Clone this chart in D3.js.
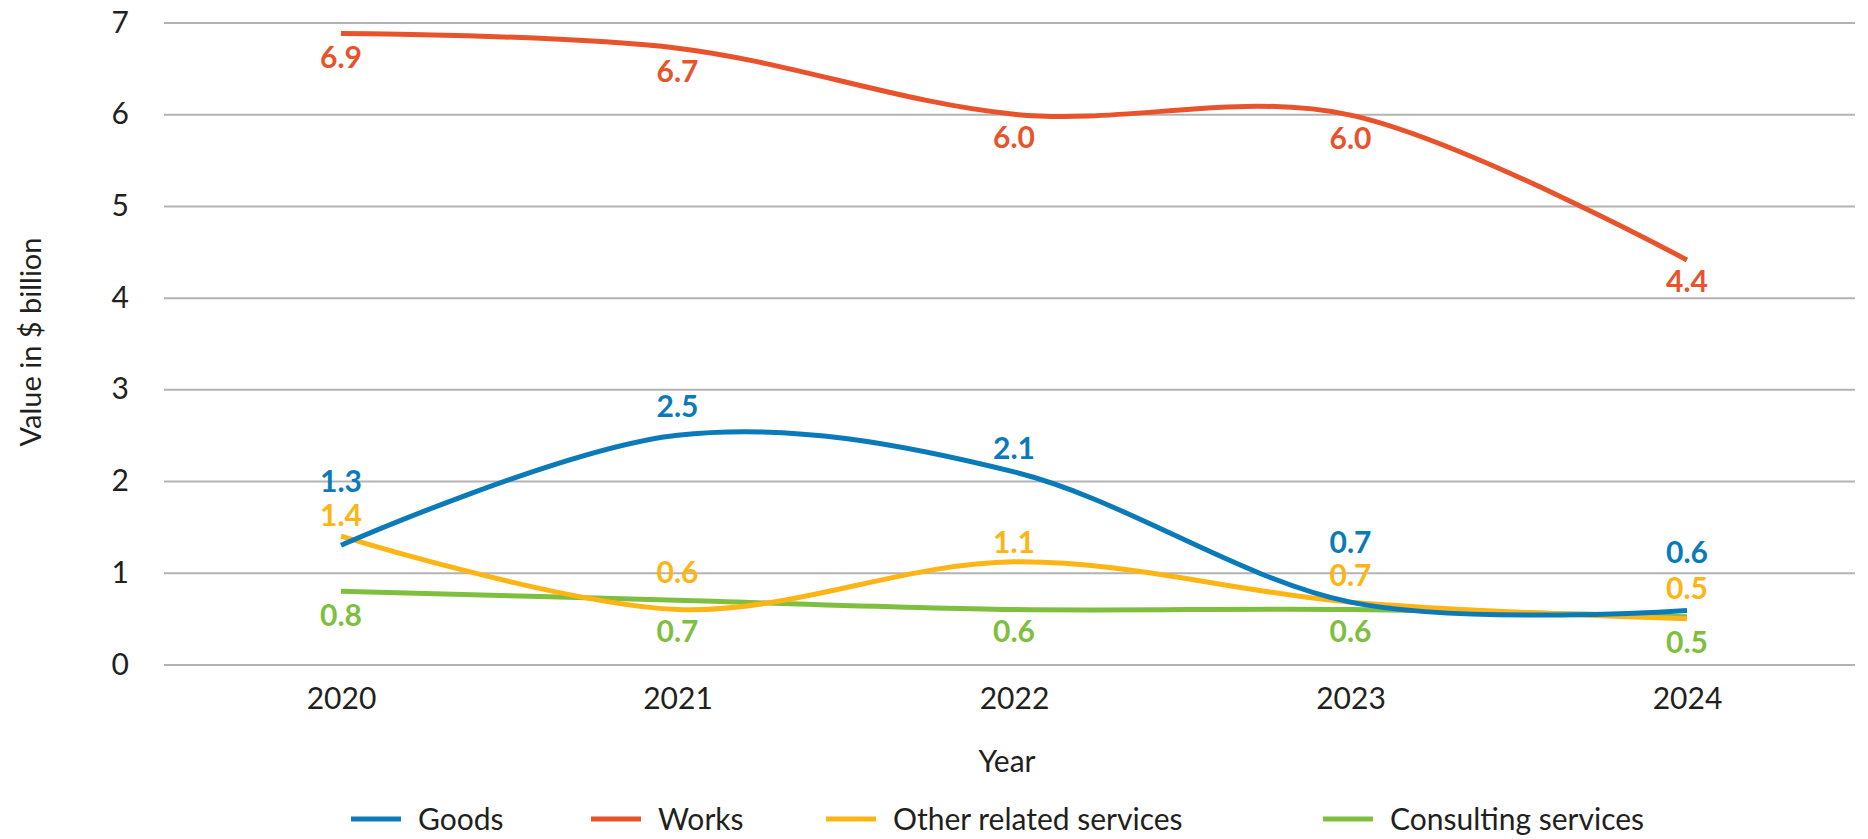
<!DOCTYPE html>
<html>
<head>
<meta charset="utf-8">
<script src="https://cdn.jsdelivr.net/npm/d3@7"></script>
<style>
  html, body { margin: 0; padding: 0; background: #fff; }
  svg { display: block; font-family: Lato, "Open Sans", sans-serif; }
  svg text { font-family: Lato, "Open Sans", sans-serif; }
</style>
</head>
<body>
<svg id="chart" width="1868" height="839"></svg>
<script>
// ---- data ----
const years = ["2020", "2021", "2022", "2023", "2024"];
const seriesNames = ["Goods", "Works", "Other related services", "Consulting services"];
const goods = [1.3, 2.5, 2.1, 0.68, 0.59];
const works = [6.88, 6.72, 6.0, 5.99, 4.41];
const otherServices = [1.4, 0.6, 1.12, 0.68, 0.5];
const consulting = [0.8, 0.7, 0.6, 0.6, 0.52];
const yTicks = [0, 1, 2, 3, 4, 5, 6, 7];

// ---- layout / style ----
const colors = { "Goods": "#0A7BB8", "Works": "#E8532B", "Other related services": "#FDB515", "Consulting services": "#7FBF3F" };
// label baseline offsets (px) relative to point
const labelDy = {
  "Goods": [-53, -18, -13, -49, -47],
  "Works": [34, 34, 34, 34, 32],
  "Other related services": [-10, -26, -9, -16, -20],
  "Consulting services": [35, 42, 33, 33, 36]
};

const svg = d3.select("#chart");
const gridLeft = 164, gridRight = 1855;
const x = d3.scalePoint().domain(years).range([341, 1687]);
const y = d3.scaleLinear().domain([0, 7]).range([664.5, 22.5]);

// gridlines + y axis
const yAxis = d3.axisLeft(y).tickValues(yTicks).tickSize(-(gridRight - gridLeft)).tickPadding(35).tickFormat(d3.format("d"));
const gy = svg.append("g").attr("transform", `translate(${gridLeft},0)`).call(yAxis)
  .attr("font-family", null).attr("font-size", null);
gy.select(".domain").remove();
gy.selectAll(".tick line").attr("stroke", "#b3b3b3").attr("stroke-width", 2);
gy.selectAll(".tick text").attr("fill", "#231f20").style("font-size", "30px");

// x axis
const xAxis = d3.axisBottom(x).tickSize(0).tickPadding(23);
const gx = svg.append("g").attr("transform", `translate(0,${y(0)})`).call(xAxis)
  .attr("font-family", null).attr("font-size", null);
gx.select(".domain").remove();
gx.selectAll(".tick text").attr("fill", "#231f20").style("font-size", "30px");

// axis titles
svg.append("text")
  .attr("transform", `translate(41,342) rotate(-90)`)
  .attr("text-anchor", "middle")
  .attr("fill", "#231f20")
  .style("font-size", "29px")
  .text("Value in $ billion");
svg.append("text")
  .attr("x", 1007).attr("y", 772)
  .attr("text-anchor", "middle")
  .attr("fill", "#231f20")
  .style("font-size", "30px")
  .text("Year");

// lines
const seriesData = {
  "Goods": goods,
  "Works": works,
  "Other related services": otherServices,
  "Consulting services": consulting
};
const line = d3.line()
  .x((d, i) => x(years[i]))
  .y(d => y(d))
  .curve(d3.curveCardinal.tension(0));

const drawOrder = ["Works", "Consulting services", "Other related services", "Goods"];
drawOrder.forEach(name => {
  svg.append("path")
    .datum(seriesData[name])
    .attr("fill", "none")
    .attr("stroke", colors[name])
    .attr("stroke-width", 5)
    .attr("d", line);
});

// data labels
drawOrder.forEach(name => {
  svg.append("g").selectAll("text")
    .data(seriesData[name])
    .join("text")
    .attr("x", (d, i) => x(years[i]))
    .attr("y", (d, i) => y(d) + labelDy[name][i])
    .attr("text-anchor", "middle")
    .attr("fill", colors[name])
    .style("font-size", "30px")
    .style("font-weight", "700")
    .text(d => d3.format(".1f")(d));
});

// legend
const legendItems = [
  { name: "Goods", x0: 351 },
  { name: "Works", x0: 591 },
  { name: "Other related services", x0: 826 },
  { name: "Consulting services", x0: 1323 }
];
const lg = svg.append("g");
legendItems.forEach(it => {
  lg.append("line")
    .attr("x1", it.x0).attr("x2", it.x0 + 50)
    .attr("y1", 819).attr("y2", 819)
    .attr("stroke", colors[it.name]).attr("stroke-width", 5);
  lg.append("text")
    .attr("x", it.x0 + 67).attr("y", 830)
    .attr("fill", "#231f20")
    .style("font-size", "30px")
    .text(it.name);
});
</script>
</body>
</html>
